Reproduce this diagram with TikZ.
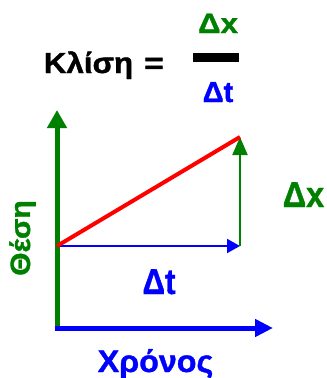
\documentclass[tikz,border=0pt]{standalone}
\usepackage{fontspec}
\setmainfont{Liberation Sans}
\newfontfamily\hv[BoldFeatures={FakeBold=1.2}]{Liberation Sans}
\usetikzlibrary{arrows.meta}
\definecolor{grn}{RGB}{0,128,0}
\definecolor{blu}{RGB}{0,0,255}
\definecolor{rd}{RGB}{255,0,0}
\newcommand{\fsz}[1]{\hv\bfseries\fontsize{#1}{#1}\selectfont}
\begin{document}
\begin{tikzpicture}[x=1pt,y=-1pt,
  lbl/.style={inner sep=0pt, anchor=base},
  axis/.style={line width=5pt},
  thin/.style={line width=2pt}]
\useasboundingbox (0,0) rectangle (327,378);
% coordinates
\coordinate (O) at (57,328);
\coordinate (Obot) at (57,330.5);
\coordinate (Oleft) at (54.5,328);
\coordinate (Ytop) at (57,110);
\coordinate (Xend) at (273,328);
\coordinate (A) at (57,246);
\coordinate (B) at (240,246);
\coordinate (C) at (240,137);
\coordinate (F1) at (193,57.5);
\coordinate (F2) at (239,57.5);
% title
\node[lbl, font=\fsz{29}] (slope) at (88.5,73) {\scalebox{1.08}[1]{Κλίση}};
\node[lbl, font=\fsz{29}] (eq) at (154,73) {\scalebox{1.15}[1]{=}};
\node[lbl, text=grn, font=\fsz{28}] (num) at (218,33) {\scalebox{1.12}[1]{Δx}};
\node[lbl, text=blu, font=\fsz{29}] (den) at (218,102) {Δt};
\draw[line width=9pt] (F1) -- (F2);
% axes
\draw[axis, grn, -{Triangle[length=18pt,width=19pt]}] (Obot) -- (Ytop);
\draw[axis, blu, -{Triangle[length=18pt,width=17pt]}] (Oleft) -- (Xend);
% triangle
\draw[thin, blu, -{Triangle[length=13pt,width=14pt]}] (A) -- (B);
\draw[thin, grn, -{Triangle[length=18pt,width=15pt]}] (B) -- (C);
\draw[line width=4pt, rd] (A) -- (C);
% labels
\node[lbl, text=grn, font=\fsz{36}] (dx) at (303.5,207) {\scalebox{0.9}[1]{Δx}};
\node[lbl, text=blu, font=\fsz{36}] (dt) at (159,294) {\scalebox{0.87}[1]{Δt}};
\node[lbl, text=grn, font=\fsz{28}, rotate=90] (pos) at (30,238) {\scalebox{1.07}[1]{Θέση}};
\node[lbl, text=blu, font=\fsz{31}] (time) at (155.5,372) {\scalebox{1.04}[1]{Χρόνος}};
\end{tikzpicture}
\end{document}
